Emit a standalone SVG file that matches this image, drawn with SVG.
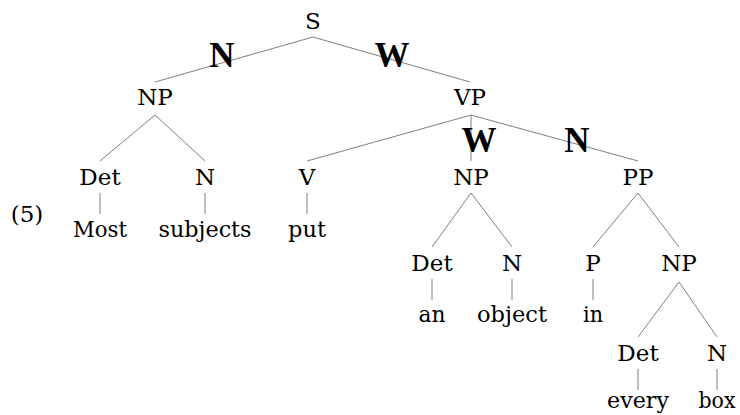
<svg xmlns="http://www.w3.org/2000/svg" width="740" height="415" viewBox="0 0 740 415">
<style>
text{font-family:"DejaVu Serif","Liberation Serif",serif;font-size:23px;fill:#000;text-anchor:middle}
.b{font-family:"Liberation Serif","DejaVu Serif",serif;font-weight:bold;font-size:35px}
.c line{stroke:#808080;stroke-width:1}
</style>
<rect width="740" height="415" fill="#fff"/>
<g class="c" id="connectors">
<line x1="313" y1="37" x2="155" y2="82"/>
<line x1="313" y1="37" x2="470" y2="82"/>
<line x1="155" y1="115" x2="100" y2="161"/>
<line x1="155" y1="115" x2="205" y2="161"/>
<line x1="471" y1="115" x2="307" y2="161"/>
<line x1="471" y1="115" x2="471" y2="161"/>
<line x1="471" y1="115" x2="638" y2="161"/>
<line x1="100" y1="193" x2="100" y2="214"/>
<line x1="205" y1="193" x2="205" y2="214"/>
<line x1="307" y1="193" x2="307" y2="214"/>
<line x1="471" y1="193" x2="432" y2="247"/>
<line x1="471" y1="193" x2="512" y2="247"/>
<line x1="638" y1="193" x2="593" y2="247"/>
<line x1="638" y1="193" x2="679" y2="247"/>
<line x1="432" y1="279" x2="432" y2="300"/>
<line x1="512" y1="279" x2="512" y2="300"/>
<line x1="593" y1="279" x2="593" y2="300"/>
<line x1="679" y1="282" x2="638" y2="337"/>
<line x1="679" y1="282" x2="717" y2="337"/>
<line x1="638" y1="369" x2="638" y2="390"/>
<line x1="717" y1="369" x2="717" y2="390"/>
</g>
<g id="labels">
<text class="b" x="222" y="67">N</text>
<text class="b" x="392" y="67">W</text>
<text class="b" x="479" y="152">W</text>
<text class="b" x="577" y="152">N</text>
</g>
<g id="ex"><text x="27" y="222">(5)</text></g>
<g id="S"><text x="313" y="29">S</text></g>
<g id="NP1"><text x="155" y="105">NP</text></g>
<g id="VP"><text x="470" y="105">VP</text></g>
<g id="Det1"><text x="100" y="185">Det</text></g>
<g id="N1"><text x="205" y="185">N</text></g>
<g id="V"><text x="307" y="185">V</text></g>
<g id="NP2"><text x="471" y="185">NP</text></g>
<g id="PP"><text x="638" y="185">PP</text></g>
<g id="w_most"><text x="100" y="237" textLength="54" lengthAdjust="spacingAndGlyphs">Most</text></g>
<g id="w_subjects"><text x="205" y="237" textLength="93" lengthAdjust="spacingAndGlyphs">subjects</text></g>
<g id="w_put"><text x="307" y="237" textLength="38" lengthAdjust="spacingAndGlyphs">put</text></g>
<g id="Det2"><text x="432" y="271">Det</text></g>
<g id="N2"><text x="512" y="271">N</text></g>
<g id="P"><text x="593" y="271">P</text></g>
<g id="NP3"><text x="679" y="271">NP</text></g>
<g id="w_an"><text x="432" y="322" textLength="27" lengthAdjust="spacingAndGlyphs">an</text></g>
<g id="w_object"><text x="512" y="322" textLength="70" lengthAdjust="spacingAndGlyphs">object</text></g>
<g id="w_in"><text x="593" y="322" textLength="20" lengthAdjust="spacingAndGlyphs">in</text></g>
<g id="Det3"><text x="638" y="361">Det</text></g>
<g id="N3"><text x="717" y="361">N</text></g>
<g id="w_every"><text x="638" y="408" textLength="62" lengthAdjust="spacingAndGlyphs">every</text></g>
<g id="w_box"><text x="717" y="408" textLength="37" lengthAdjust="spacingAndGlyphs">box</text></g>
</svg>
